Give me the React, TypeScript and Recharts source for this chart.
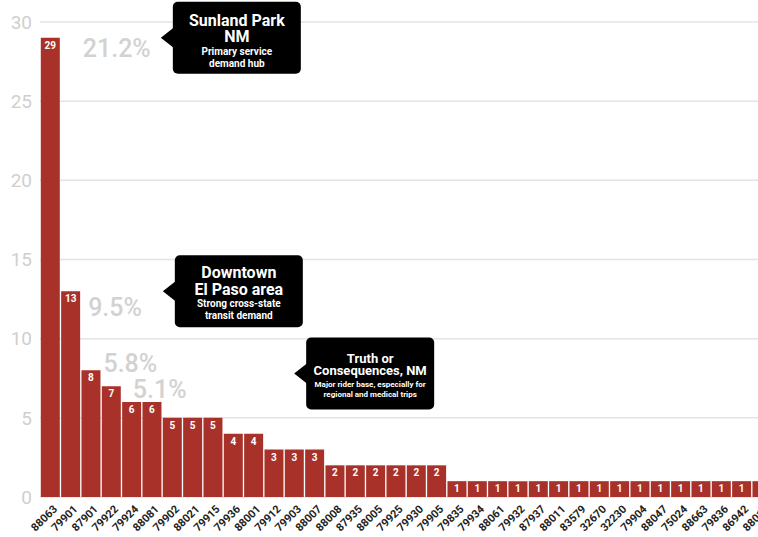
import { Bar, BarChart, CartesianGrid, LabelList, ReferenceDot, XAxis, YAxis } from "recharts";

const zips = [
  "88063", "79901", "87901", "79922", "79924", "88081", "79902", "88021", "79915", "79936",
  "88001", "79912", "79903", "88007", "88008", "87935", "88005", "79925", "79930", "79905",
  "79835", "79934", "88061", "79932", "87937", "88011", "83579", "32670", "32230", "79904",
  "88047", "75024", "88663", "79836", "86942", "88012",
];
const riders = [29, 13, 8, 7, 6, 6, 5, 5, 5, 4, 4, 3, 3, 3, 2, 2, 2, 2, 2, 2, 1, 1, 1, 1, 1, 1, 1, 1, 1, 1, 1, 1, 1, 1, 1, 1];
const shares = ["21.2%", "9.5%", "5.8%", "5.1%"];
const yTicks = [0, 5, 10, 15, 20, 25, 30];

const data = zips.map((zip, i) => ({ zip, riders: riders[i], share: shares[i] ?? "" }));

// nudges for the big grey share labels, relative to the bar's top-right corner
const shareNudge = [
  { dx: 23, dy: 10 },
  { dx: 8, dy: 16 },
  { dx: 3, dy: -7 },
  { dx: 12, dy: 3 },
];

const font = "Roboto, 'Noto Sans', sans-serif";
const barColor = "#A8322A";

function ShareLabel(props: any) {
  const { x, y, width, value, index } = props;
  if (!value) return null;
  const n = shareNudge[index] ?? { dx: 0, dy: 0 };
  return (
    <text x={x + width + n.dx} y={y + n.dy} dy="0.35em" fill="#d2d2d2" fontSize={25} fontFamily={font} fontWeight={500}>
      {value}
    </text>
  );
}

function ZipTick(props: any) {
  const { x, y, payload } = props;
  return (
    <g transform={`translate(${x + 5},${y + 2})`}>
      <text x={0} y={0} dy="0.35em" textAnchor="end" transform="rotate(-45)" fill="#222" fontSize={11} fontWeight={700} fontFamily={font}>
        {payload.value}
      </text>
    </g>
  );
}

function Callout(props: any) {
  const { cx, cy, dx, title, note, titleSize, noteSize, titleY, noteY } = props;
  if (cx == null || cy == null) return null;
  const tipX = cx + dx;
  const left = tipX + 12;
  const top = cy - 36;
  const w = 128;
  const h = 72;
  const mid = left + w / 2;
  return (
    <g>
      <path d={`M${tipX},${cy} L${left + 2},${cy - 11} L${left + 2},${cy + 11} Z`} fill="#000" />
      <rect x={left} y={top} width={w} height={h} rx={5} fill="#000" />
      {title.map((t: string, i: number) => (
        <text key={t} x={mid} y={top + titleY[i]} textAnchor="middle" fill="#fff" fontSize={titleSize} fontWeight={700} fontFamily={font}>
          {t}
        </text>
      ))}
      {note.map((t: string, i: number) => (
        <text key={t} x={mid} y={top + noteY[i]} textAnchor="middle" fill="#fff" fontSize={noteSize} fontWeight={700} fontFamily={font}>
          {t}
        </text>
      ))}
    </g>
  );
}

export default function App() {
  return (
    <div style={{ width: 758, height: 537, overflow: "hidden", background: "#fff" }}>
      <style>{"body{margin:0;overflow:hidden}"}</style>
      <BarChart width={772} height={537} data={data} margin={{ top: 22, right: 0, left: 0, bottom: 0 }} barCategoryGap={0.8}>
        <CartesianGrid vertical={false} stroke="#e4e4e4" strokeWidth={1.5} />
        <XAxis dataKey="zip" interval={0} height={40} tick={<ZipTick />} tickLine={false} axisLine={false} />
        <YAxis
          domain={[0, 30]}
          ticks={yTicks}
          width={40}
          tickLine={false}
          axisLine={false}
          tick={{ fill: "#cfcfcf", fontSize: 19, fontFamily: font }}
        />
        <Bar dataKey="riders" fill={barColor} isAnimationActive={false}>
          <LabelList dataKey="riders" position="insideTop" offset={4} fill="#fff" fontSize={10} fontWeight={700} fontFamily={font} />
          <LabelList dataKey="share" content={<ShareLabel />} />
        </Bar>
        <ReferenceDot
          x="88081"
          y={29}
          r={0}
          shape={(p: any) => (
            <Callout {...p} dx={9} title={["Sunland Park", "NM"]} note={["Primary service", "demand hub"]} titleSize={16} noteSize={10} titleY={[24, 40]} noteY={[53, 65]} />
          )}
        />
        <ReferenceDot
          x="88081"
          y={13}
          r={0}
          shape={(p: any) => (
            <Callout {...p} dx={11} title={["Downtown", "El Paso area"]} note={["Strong cross-state", "transit demand"]} titleSize={16} noteSize={10} titleY={[23, 40]} noteY={[52, 64]} />
          )}
        />
        <ReferenceDot
          x="79903"
          y={7.8}
          r={0}
          shape={(p: any) => (
            <Callout
              {...p}
              dx={0}
              title={["Truth or", "Consequences, NM"]}
              note={["Major rider base, especially for", "regional and medical trips"]}
              titleSize={13}
              noteSize={8}
              titleY={[25, 37]}
              noteY={[49, 59]}
            />
          )}
        />
      </BarChart>
    </div>
  );
}
